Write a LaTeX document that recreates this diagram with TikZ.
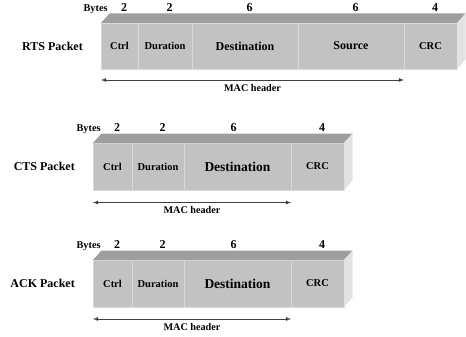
\documentclass[tikz,border=0pt]{standalone}
\usepackage{fontspec}
\setmainfont{Liberation Serif}
\usetikzlibrary{positioning}

\definecolor{frontgray}{HTML}{C2C2C2}
\definecolor{topgray}{HTML}{9E9E9E}
\definecolor{sidegray}{HTML}{E2E2E2}
\definecolor{linegray}{HTML}{DADADA}

\tikzset{
    field/.style={draw=linegray, line width=0.8pt, fill=frontgray,
        minimum height=46pt, inner sep=0pt, outer sep=0pt,
        font=\bfseries\fontsize{10.5}{12}\selectfont},
    bigfield/.style={field, font=\bfseries\fontsize{12}{14}\selectfont},
    hugefield/.style={field, font=\bfseries\fontsize{13.5}{15}\selectfont},
    bytenum/.style={inner sep=0pt, font=\bfseries\fontsize{12}{14}\selectfont},
    byteword/.style={inner sep=0pt, font=\bfseries\fontsize{10.3}{12}\selectfont},
    pktname/.style={inner sep=0pt, font=\bfseries\fontsize{12}{14}\selectfont},
    macarrow/.style={<->, line width=0.8pt, draw=black!75},
    maclabel/.style={below=4pt, inner sep=0pt, font=\bfseries\fontsize{10.2}{12}\selectfont}
}

\begin{document}
\begin{tikzpicture}[
    >=latex,
    x=1pt, y=-1pt
]
\useasboundingbox (0,0) rectangle (466,337);

% Tiefe der Quader
\def\dx{8.5pt}
\def\dy{9.5pt}

% RTS
\node[field, minimum width=37pt] (rtsCtrl) at (119.5,46) {Ctrl};
\node[field, minimum width=54pt, right=0pt of rtsCtrl] (rtsDur) {Duration};
\node[bigfield, minimum width=106pt, right=0pt of rtsDur] (rtsDest) {Destination};
\node[bigfield, minimum width=106pt, right=0pt of rtsDest] (rtsSrc) {Source};
\node[field, minimum width=53pt, right=0pt of rtsSrc] (rtsCRC) {CRC};

\fill[topgray] (rtsCtrl.north west) -- ([xshift=\dx,yshift=\dy]rtsCtrl.north west)
    -- ([xshift=\dx,yshift=\dy]rtsCRC.north east) -- (rtsCRC.north east) -- cycle;
\fill[sidegray] (rtsCRC.north east) -- ([xshift=\dx,yshift=\dy]rtsCRC.north east)
    -- ([xshift=\dx,yshift=\dy]rtsCRC.south east) -- (rtsCRC.south east) -- cycle;

\node[bytenum, anchor=base] (rtsB1) at ([xshift=4.5pt,yshift=11pt]rtsCtrl.north) {2};
\node[bytenum, anchor=base] (rtsB2) at ([xshift=4.5pt,yshift=11pt]rtsDur.north) {2};
\node[bytenum, anchor=base] (rtsB3) at ([xshift=4.5pt,yshift=11pt]rtsDest.north) {6};
\node[bytenum, anchor=base] (rtsB4) at ([xshift=4.5pt,yshift=11pt]rtsSrc.north) {6};
\node[bytenum, anchor=base] (rtsB5) at ([xshift=4.5pt,yshift=11pt]rtsCRC.north) {4};
\node[byteword, base left=13pt of rtsB1] (rtsBytes) {Bytes};

\node[pktname, left=18pt of rtsCtrl] (rtsName) {RTS Packet};

\coordinate (rtsMacL) at ([yshift=-11pt]rtsCtrl.south west);
\coordinate (rtsMacR) at ([yshift=-11pt]rtsSrc.south east);
\draw[macarrow] (rtsMacL) -- node[maclabel] (rtsMac) {MAC header} (rtsMacR);

% CTS
\node[field, minimum width=39pt, minimum height=47pt] (ctsCtrl) at (112.5,166.5) {Ctrl};
\node[field, minimum width=52pt, minimum height=47pt, right=0pt of ctsCtrl] (ctsDur) {Duration};
\node[hugefield, minimum width=107pt, minimum height=47pt, right=0pt of ctsDur] (ctsDest) {Destination};
\node[field, minimum width=53pt, minimum height=47pt, right=0pt of ctsDest] (ctsCRC) {CRC};

\fill[topgray] (ctsCtrl.north west) -- ([xshift=\dx,yshift=\dy]ctsCtrl.north west)
    -- ([xshift=\dx,yshift=\dy]ctsCRC.north east) -- (ctsCRC.north east) -- cycle;
\fill[sidegray] (ctsCRC.north east) -- ([xshift=\dx,yshift=\dy]ctsCRC.north east)
    -- ([xshift=\dx,yshift=\dy]ctsCRC.south east) -- (ctsCRC.south east) -- cycle;

\node[bytenum, anchor=base] (ctsB1) at ([xshift=4.5pt,yshift=11.5pt]ctsCtrl.north) {2};
\node[bytenum, anchor=base] (ctsB2) at ([xshift=4.5pt,yshift=11.5pt]ctsDur.north) {2};
\node[bytenum, anchor=base] (ctsB3) at ([xshift=-4pt,yshift=11.5pt]ctsDest.north) {6};
\node[bytenum, anchor=base] (ctsB4) at ([xshift=4.5pt,yshift=11.5pt]ctsCRC.north) {4};
\node[byteword, base left=13pt of ctsB1] (ctsBytes) {Bytes};

\node[pktname, left=18pt of ctsCtrl] (ctsName) {CTS Packet};

\coordinate (ctsMacL) at ([yshift=-12.5pt]ctsCtrl.south west);
\coordinate (ctsMacR) at ([yshift=-12.5pt]ctsDest.south east);
\draw[macarrow] (ctsMacL) -- node[maclabel] (ctsMac) {MAC header} (ctsMacR);

% ACK
\node[field, minimum width=39pt, minimum height=47pt] (ackCtrl) at (112.5,283.5) {Ctrl};
\node[field, minimum width=52pt, minimum height=47pt, right=0pt of ackCtrl] (ackDur) {Duration};
\node[hugefield, minimum width=107pt, minimum height=47pt, right=0pt of ackDur] (ackDest) {Destination};
\node[field, minimum width=53pt, minimum height=47pt, right=0pt of ackDest] (ackCRC) {CRC};

\fill[topgray] (ackCtrl.north west) -- ([xshift=\dx,yshift=\dy]ackCtrl.north west)
    -- ([xshift=\dx,yshift=\dy]ackCRC.north east) -- (ackCRC.north east) -- cycle;
\fill[sidegray] (ackCRC.north east) -- ([xshift=\dx,yshift=\dy]ackCRC.north east)
    -- ([xshift=\dx,yshift=\dy]ackCRC.south east) -- (ackCRC.south east) -- cycle;

\node[bytenum, anchor=base] (ackB1) at ([xshift=4.5pt,yshift=11.5pt]ackCtrl.north) {2};
\node[bytenum, anchor=base] (ackB2) at ([xshift=4.5pt,yshift=11.5pt]ackDur.north) {2};
\node[bytenum, anchor=base] (ackB3) at ([xshift=-4pt,yshift=11.5pt]ackDest.north) {6};
\node[bytenum, anchor=base] (ackB4) at ([xshift=4.5pt,yshift=11.5pt]ackCRC.north) {4};
\node[byteword, base left=13pt of ackB1] (ackBytes) {Bytes};

\node[pktname, left=18pt of ackCtrl] (ackName) {ACK Packet};

\coordinate (ackMacL) at ([yshift=-12pt]ackCtrl.south west);
\coordinate (ackMacR) at ([yshift=-12pt]ackDest.south east);
\draw[macarrow] (ackMacL) -- node[maclabel] (ackMac) {MAC header} (ackMacR);

\end{tikzpicture}
\end{document}
